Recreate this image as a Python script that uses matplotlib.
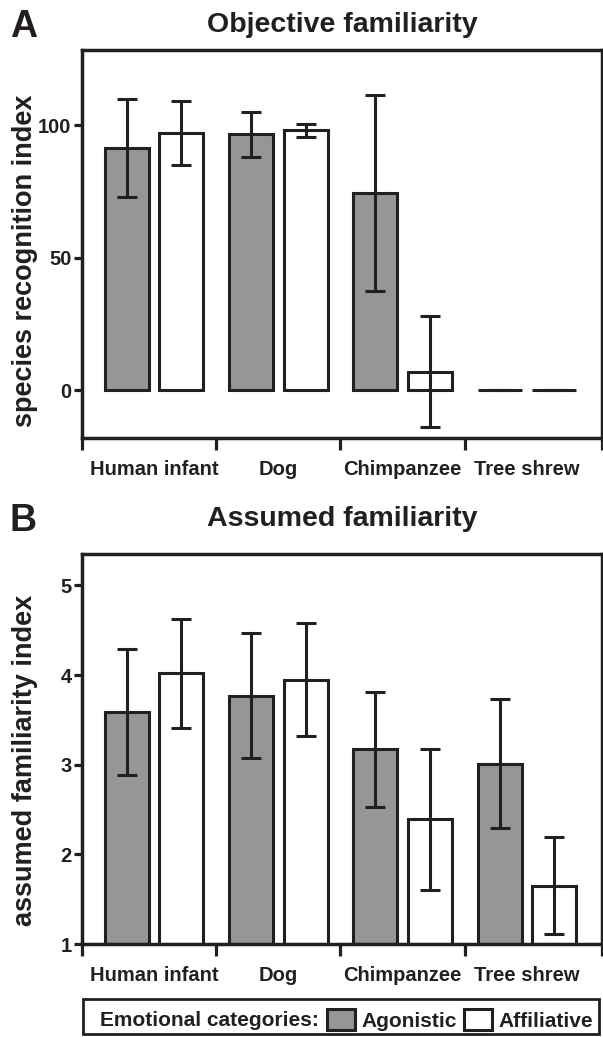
import matplotlib
matplotlib.use("Agg")
import matplotlib.pyplot as plt
import numpy as np
from matplotlib.patches import Patch, Rectangle

plt.rcParams["font.family"] = ["Liberation Sans", "DejaVu Sans"]
plt.rcParams["font.weight"] = "bold"
plt.rcParams["axes.labelweight"] = "bold"

species = ["Human infant", "Dog", "Chimpanzee", "Tree shrew"]

# panel A: species recognition index (mean, error half-length)
recog_agon = [91.5, 96.5, 74.5, 0]
recog_agon_err = [18.5, 8.5, 37, 0]
recog_affil = [97, 98, 7, 0]
recog_affil_err = [12, 2.5, 21, 0]

# panel B: assumed familiarity index
assumed_agon = [3.59, 3.77, 3.17, 3.01]
assumed_agon_err = [0.70, 0.70, 0.64, 0.72]
assumed_affil = [4.02, 3.95, 2.39, 1.65]
assumed_affil_err = [0.61, 0.63, 0.79, 0.54]

GREY = "#969696"
INK = "#231f20"
W, H = 603, 1037
LW = 2.2


def px_rect(left, top, right, bottom):
    return [left / W, 1 - bottom / H, (right - left) / W, (bottom - top) / H]


def draw_panel(ax, agon, agon_err, affil, affil_err, base, ylim, yticks, ylabel, label_y):
    x = np.arange(len(species))
    off, width = 0.22, 0.355
    for vals, errs, colour, sign in [(agon, agon_err, GREY, -1), (affil, affil_err, "white", 1)]:
        vals = np.asarray(vals, dtype=float)
        ax.bar(x + sign * off, vals - base, width, bottom=base, color=colour,
               edgecolor=INK, linewidth=LW, zorder=2)
        ax.errorbar(x + sign * off, vals, yerr=errs, fmt="none", ecolor=INK,
                    elinewidth=LW, capsize=7, capthick=LW, zorder=3)

    xlim = (-0.579, 3.604)
    ax.set_xlim(*xlim)
    ax.set_ylim(*ylim)
    ax.set_xticks([xlim[0], 0.5, 1.5, 2.5, xlim[1]])
    ax.set_xticklabels([])
    ax.set_xticks(x, minor=True)
    ax.set_xticklabels(species, minor=True)
    ax.tick_params(axis="x", which="major", direction="out", length=8.6, width=2.3, color=INK)
    ax.tick_params(axis="x", which="minor", length=0, pad=16, labelsize=14.5, labelcolor=INK)
    ax.set_yticks(yticks)
    ax.tick_params(axis="y", direction="out", length=6, width=2.3, pad=1.5,
                   labelsize=14.5, color=INK, labelcolor=INK)
    for sp in ax.spines.values():
        sp.set_linewidth(2.5)
        sp.set_color(INK)
    ax.set_ylabel(ylabel, fontsize=19.5, color=INK)
    ax.yaxis.set_label_coords(-0.085, label_y)


fig = plt.figure(figsize=(W / 100, H / 100), dpi=100)
axA = fig.add_axes(px_rect(82, 50, 602, 438))
axB = fig.add_axes(px_rect(82, 554, 602, 944))

draw_panel(axA, recog_agon, recog_agon_err, recog_affil, recog_affil_err, 0,
           (-18, 128.3), [0, 50, 100], "species recognition index", 0.456)
draw_panel(axB, assumed_agon, assumed_agon_err, assumed_affil, assumed_affil_err, 1,
           (1, 5.35), [1, 2, 3, 4, 5], "assumed familiarity index", 0.47)

fig.text(342 / W, 1 - 25 / H, "Objective familiarity", ha="center", va="center",
         fontsize=20.5, color=INK)
fig.text(342 / W, 1 - 519 / H, "Assumed familiarity", ha="center", va="center",
         fontsize=20.5, color=INK)
fig.text(10 / W, 1 - 37 / H, "A", ha="left", va="baseline", fontsize=27, color=INK)
fig.text(10 / W, 1 - 531 / H, "B", ha="left", va="baseline", fontsize=27, color=INK)

# legend strip
fig.add_artist(Rectangle((83 / W, 1 - 1034 / H), (599 - 83) / W, 35 / H,
                         transform=fig.transFigure, fill=False, lw=2, ec=INK))
fig.text(100 / W, 1 - 1020 / H, "Emotional categories:", ha="left", va="center",
         fontsize=15, color=INK)
handles = [Patch(facecolor=GREY, edgecolor=INK, linewidth=LW),
           Patch(facecolor="white", edgecolor=INK, linewidth=LW)]
fig.legend(handles, ["Agonistic", "Affiliative"], loc="center left",
           bbox_to_anchor=(327 / W, 1 - 1020 / H), ncol=2, frameon=False,
           fontsize=15, handlelength=1.35, handleheight=1.15, handletextpad=0.3,
           columnspacing=0.35, borderpad=0, borderaxespad=0, labelcolor=INK)

fig.savefig("out.png", dpi=100)
